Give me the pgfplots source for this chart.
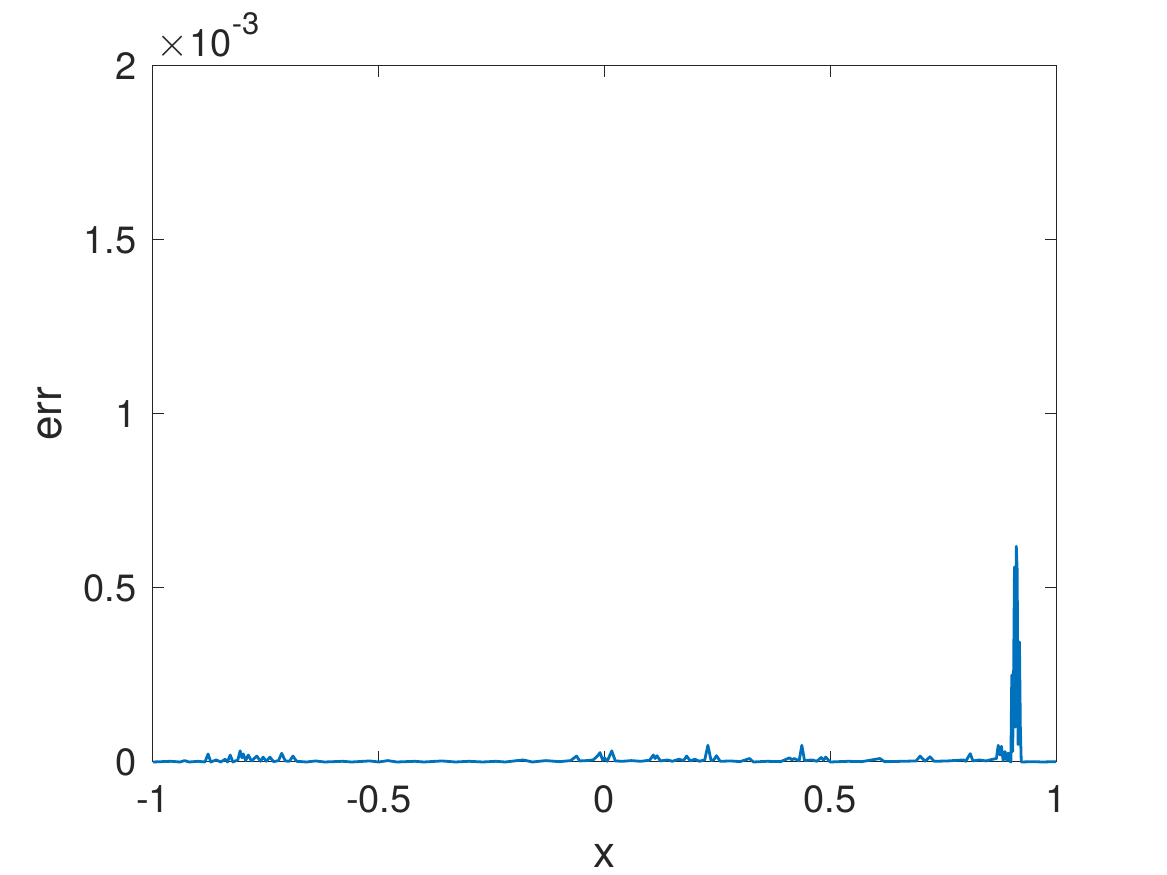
\documentclass[border=0pt]{standalone}
\usepackage{pgfplots}
\pgfplotsset{compat=1.18}
\usepackage{fontspec}
\setmainfont{TeX Gyre Heros}
\definecolor{mblue}{HTML}{0072BD}
\definecolor{axgray}{HTML}{262626}

\pgfplotstableread{
x y
-1.000 0
-0.960 0.002
-0.940 0
-0.930 0.004
-0.920 0
-0.900 0.002
-0.885 0
-0.878 0.023
-0.872 0
-0.860 0.006
-0.850 0
-0.840 0.008
-0.835 0
-0.829 0.020
-0.823 0
-0.812 0.006
-0.807 0.032
-0.803 0.012
-0.800 0.023
-0.795 0.004
-0.789 0.020
-0.782 0.003
-0.770 0.017
-0.762 0.002
-0.756 0.014
-0.749 0.002
-0.741 0.014
-0.733 0.001
-0.722 0.004
-0.715 0.025
-0.707 0.003
-0.698 0.002
-0.690 0.017
-0.682 0.002
-0.660 0
-0.640 0.003
-0.620 0
-0.580 0.002
-0.560 0
-0.520 0.003
-0.500 0
-0.480 0.004
-0.460 0
-0.420 0.002
-0.400 0
-0.360 0.003
-0.330 0
-0.300 0.002
-0.270 0
-0.240 0.002
-0.220 0
-0.180 0.006
-0.160 0
-0.130 0.004
-0.100 0.001
-0.075 0.004
-0.062 0.017
-0.055 0.003
-0.040 0.004
-0.025 0.006
-0.015 0.018
-0.010 0.027
-0.004 0.005
0.000 0.012
0.006 0.002
0.016 0.032
0.024 0.003
0.040 0.002
0.060 0.004
0.080 0.002
0.100 0.005
0.108 0.020
0.112 0.010
0.116 0.018
0.124 0.003
0.140 0.006
0.150 0.002
0.165 0.008
0.175 0.004
0.182 0.017
0.190 0.003
0.200 0.008
0.210 0.002
0.222 0.006
0.229 0.048
0.236 0.004
0.242 0.006
0.248 0.018
0.256 0.002
0.280 0.003
0.300 0.001
0.321 0.010
0.330 0
0.360 0.002
0.390 0.001
0.410 0.012
0.415 0.006
0.420 0.010
0.431 0.003
0.437 0.048
0.443 0.004
0.460 0.006
0.470 0.002
0.480 0.013
0.485 0.005
0.490 0.014
0.500 0
0.540 0.002
0.570 0.001
0.610 0.010
0.620 0.001
0.660 0.002
0.690 0.003
0.699 0.017
0.710 0.002
0.721 0.015
0.730 0.002
0.760 0.003
0.795 0.006
0.800 0.002
0.810 0.024
0.816 0.003
0.830 0.006
0.845 0.003
0.860 0.008
0.868 0.010
0.872 0.048
0.876 0.020
0.879 0.045
0.883 0.004
0.887 0.030
0.891 0.004
0.894 0.026
0.898 0.002
0.900 0
0.902 0.250
0.904 0.030
0.906 0.240
0.908 0.560
0.910 0.100
0.912 0.620
0.914 0.550
0.916 0.050
0.918 0.200
0.919 0.345
0.921 0.100
0.923 0
0.950 0.001
0.970 0
1.000 0.001
}\errdata

\begin{document}
\begin{tikzpicture}[x=1bp,y=1bp]
\path[use as bounding box] (-76.5,-56.5) rectangle (507,381);
\begin{axis}[
  at={(0,0)}, anchor=south west,
  scale only axis,
  width=451.5bp, height=348bp,
  xmin=-1, xmax=1, ymin=0, ymax=2,
  axis line style={axgray, line width=0.5bp},
  every tick/.style={axgray, line width=0.5bp},
  major tick length=5.5bp,
  tick align=inside,
  xtick={-1,-0.5,0,0.5,1},
  xticklabels={-1,-0.5,0,0.5,1},
  ytick={0,0.5,1,1.5,2},
  yticklabels={0,0.5,1,1.5,2},
  xticklabel style={font=\fontsize{19bp}{22bp}\selectfont, text=axgray, anchor=base, inner sep=0pt, yshift=-25.5bp},
  yticklabel style={font=\fontsize{19bp}{22bp}\selectfont, text=axgray, anchor=east, inner sep=0pt, xshift=-8bp},
  xlabel={x},
  ylabel={err},
  xlabel style={font=\fontsize{22bp}{26bp}\selectfont, text=axgray, at={(axis description cs:0.5,-0.1509)}, anchor=base, inner sep=0pt},
  ylabel style={font=\fontsize{22bp}{26bp}\selectfont, text=axgray, at={(axis description cs:-0.1008,0.5)}, anchor=base, inner sep=0pt},
  clip=false,
]
\addplot[mblue, line width=1.4bp, line join=round] table[x=x,y=y] {\errdata};
\node[anchor=base west, inner sep=0pt, text=axgray, font=\fontsize{19bp}{22bp}\selectfont]
  at (rel axis cs:0,1) [xshift=1.5bp, yshift=4.5bp] {{\fontsize{21bp}{24bp}\selectfont$\times$}\kern0.5bp 10\raisebox{11bp}{\fontsize{15.5bp}{18bp}\selectfont -3}};
\end{axis}
\end{tikzpicture}
\end{document}
